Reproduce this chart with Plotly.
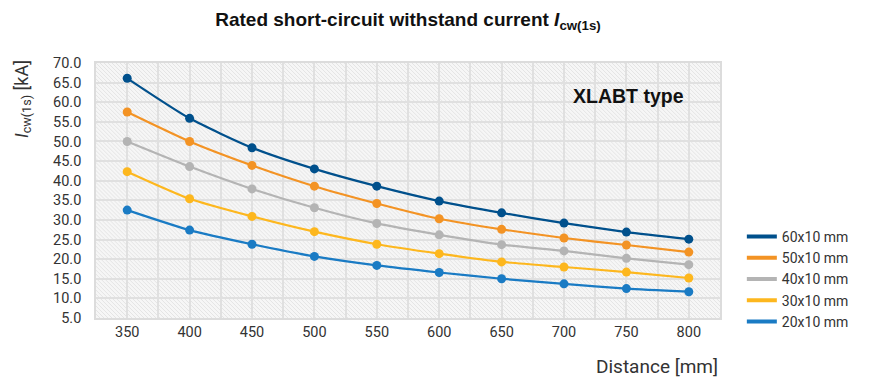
import base64
import plotly.graph_objects as go

# Busbar spacing (mm)
distance = [350, 400, 450, 500, 550, 600, 650, 700, 750, 800]

# Rated short-time withstand current Icw(1s) in kA per busbar size
icw_60x10 = [66.1, 55.9, 48.4, 43.0, 38.6, 34.8, 31.8, 29.2, 26.9, 25.1]
icw_50x10 = [57.5, 50.0, 43.9, 38.6, 34.2, 30.3, 27.6, 25.4, 23.6, 21.8]
icw_40x10 = [50.0, 43.6, 37.9, 33.1, 29.1, 26.2, 23.7, 22.1, 20.2, 18.6]
icw_30x10 = [42.3, 35.4, 30.9, 27.0, 23.8, 21.4, 19.3, 18.0, 16.7, 15.2]
icw_20x10 = [32.5, 27.4, 23.8, 20.7, 18.4, 16.6, 15.0, 13.7, 12.5, 11.7]

series_names = ["60x10 mm", "50x10 mm", "40x10 mm", "30x10 mm", "20x10 mm"]
series_values = [icw_60x10, icw_50x10, icw_40x10, icw_30x10, icw_20x10]
series_colors = ["#00508c", "#f39324", "#b4b4b4", "#fdb71e", "#1a7bc4"]

y_ticks = [5, 10, 15, 20, 25, 30, 35, 40, 45, 50, 55, 60, 65, 70]

FONT = "Roboto, 'Liberation Sans', Arial, sans-serif"
BOLD = "'Liberation Sans', Arial, sans-serif"
TEXT = "#333333"

fig = go.Figure()

for name, vals, col in zip(series_names, series_values, series_colors):
    fig.add_trace(go.Scatter(
        x=distance, y=vals, mode="lines+markers", name=name,
        line=dict(color=col, width=2.2, shape="spline", smoothing=0.6),
        marker=dict(color=col, size=9),
        showlegend=False, cliponaxis=False,
    ))

# legend entries drawn as plain line keys
for name, col in zip(series_names, series_colors):
    fig.add_trace(go.Scatter(
        x=[None], y=[None], mode="lines", name=name,
        line=dict(color=col, width=4),
        showlegend=True,
    ))

# hatched plot-area background
svg = (
    "<svg xmlns='http://www.w3.org/2000/svg' width='624' height='256'>"
    "<defs><pattern id='h' width='4' height='4' patternUnits='userSpaceOnUse'>"
    "<rect width='4' height='4' fill='#f6f6f6'/>"
    "<path d='M-1,-1 L5,5 M-1,3 L1,5 M3,-1 L5,1' stroke='#e4e4e4' stroke-width='1'/>"
    "</pattern></defs><rect width='100%' height='100%' fill='url(#h)'/></svg>"
)
svg_uri = "data:image/svg+xml;base64," + base64.b64encode(svg.encode()).decode()

fig.update_layout(
    width=869, height=378,
    margin=dict(l=96, r=149, t=63, b=60),
    paper_bgcolor="white",
    plot_bgcolor="rgba(0,0,0,0)",
    font=dict(family=FONT, size=14, color=TEXT),
    title=dict(
        text="<b>Rated short-circuit withstand current <i>I</i><sub>cw(1s)</sub></b>",
        x=0.5, xref="paper", xanchor="center",
        y=0.95, yref="container", yanchor="middle",
        font=dict(family=BOLD, size=19, color="#111111"),
    ),
    images=[dict(
        source=svg_uri, xref="paper", yref="paper", x=0, y=1,
        sizex=1, sizey=1, xanchor="left", yanchor="top",
        sizing="stretch", layer="below",
    )],
    xaxis=dict(
        range=[325, 825], tickmode="array", tickvals=distance,
        ticktext=[str(d) for d in distance],
        showgrid=True, gridcolor="#e0e0e0", gridwidth=1.5,
        minor=dict(dtick=25, tick0=325, showgrid=True, gridcolor="#e0e0e0", gridwidth=1.5),
        zeroline=False, showline=True, mirror=True, linecolor="#dcdcdc", linewidth=1.5,
        ticks="", tickfont=dict(size=14.5, color=TEXT),
    ),
    yaxis=dict(
        range=[5, 70], tickmode="array", tickvals=y_ticks,
        ticktext=[f"{v:.1f}" for v in y_ticks],
        showgrid=True, gridcolor="#e0e0e0", gridwidth=1.5,
        zeroline=False, showline=True, mirror=True, linecolor="#dcdcdc", linewidth=1.5,
        ticks="", ticklabelstandoff=10, tickfont=dict(size=14.5, color=TEXT),
    ),
    legend=dict(
        x=1.035, xanchor="left", y=0.153, yanchor="middle",
        font=dict(size=14, color=TEXT), tracegroupgap=0,
        itemwidth=30, bgcolor="rgba(0,0,0,0)",
    ),
    annotations=[
        dict(text="<b>XLABT type</b>", xref="paper", yref="paper",
             x=0.946, y=0.87, xanchor="right", yanchor="middle", showarrow=False,
             font=dict(family=BOLD, size=19.5, color="#111111")),
        dict(text="Distance [mm]", xref="paper", yref="paper",
             x=1.0, y=-0.19, xanchor="right", yanchor="middle", showarrow=False,
             font=dict(size=19, color=TEXT)),
        dict(text="<i>I</i><sub>cw(1s)</sub> [kA]", xref="paper", yref="paper",
             x=-0.118, y=0.86, xanchor="center", yanchor="middle", textangle=-90,
             showarrow=False, font=dict(size=18, color=TEXT)),
    ],
)

fig.write_html("out.html")
